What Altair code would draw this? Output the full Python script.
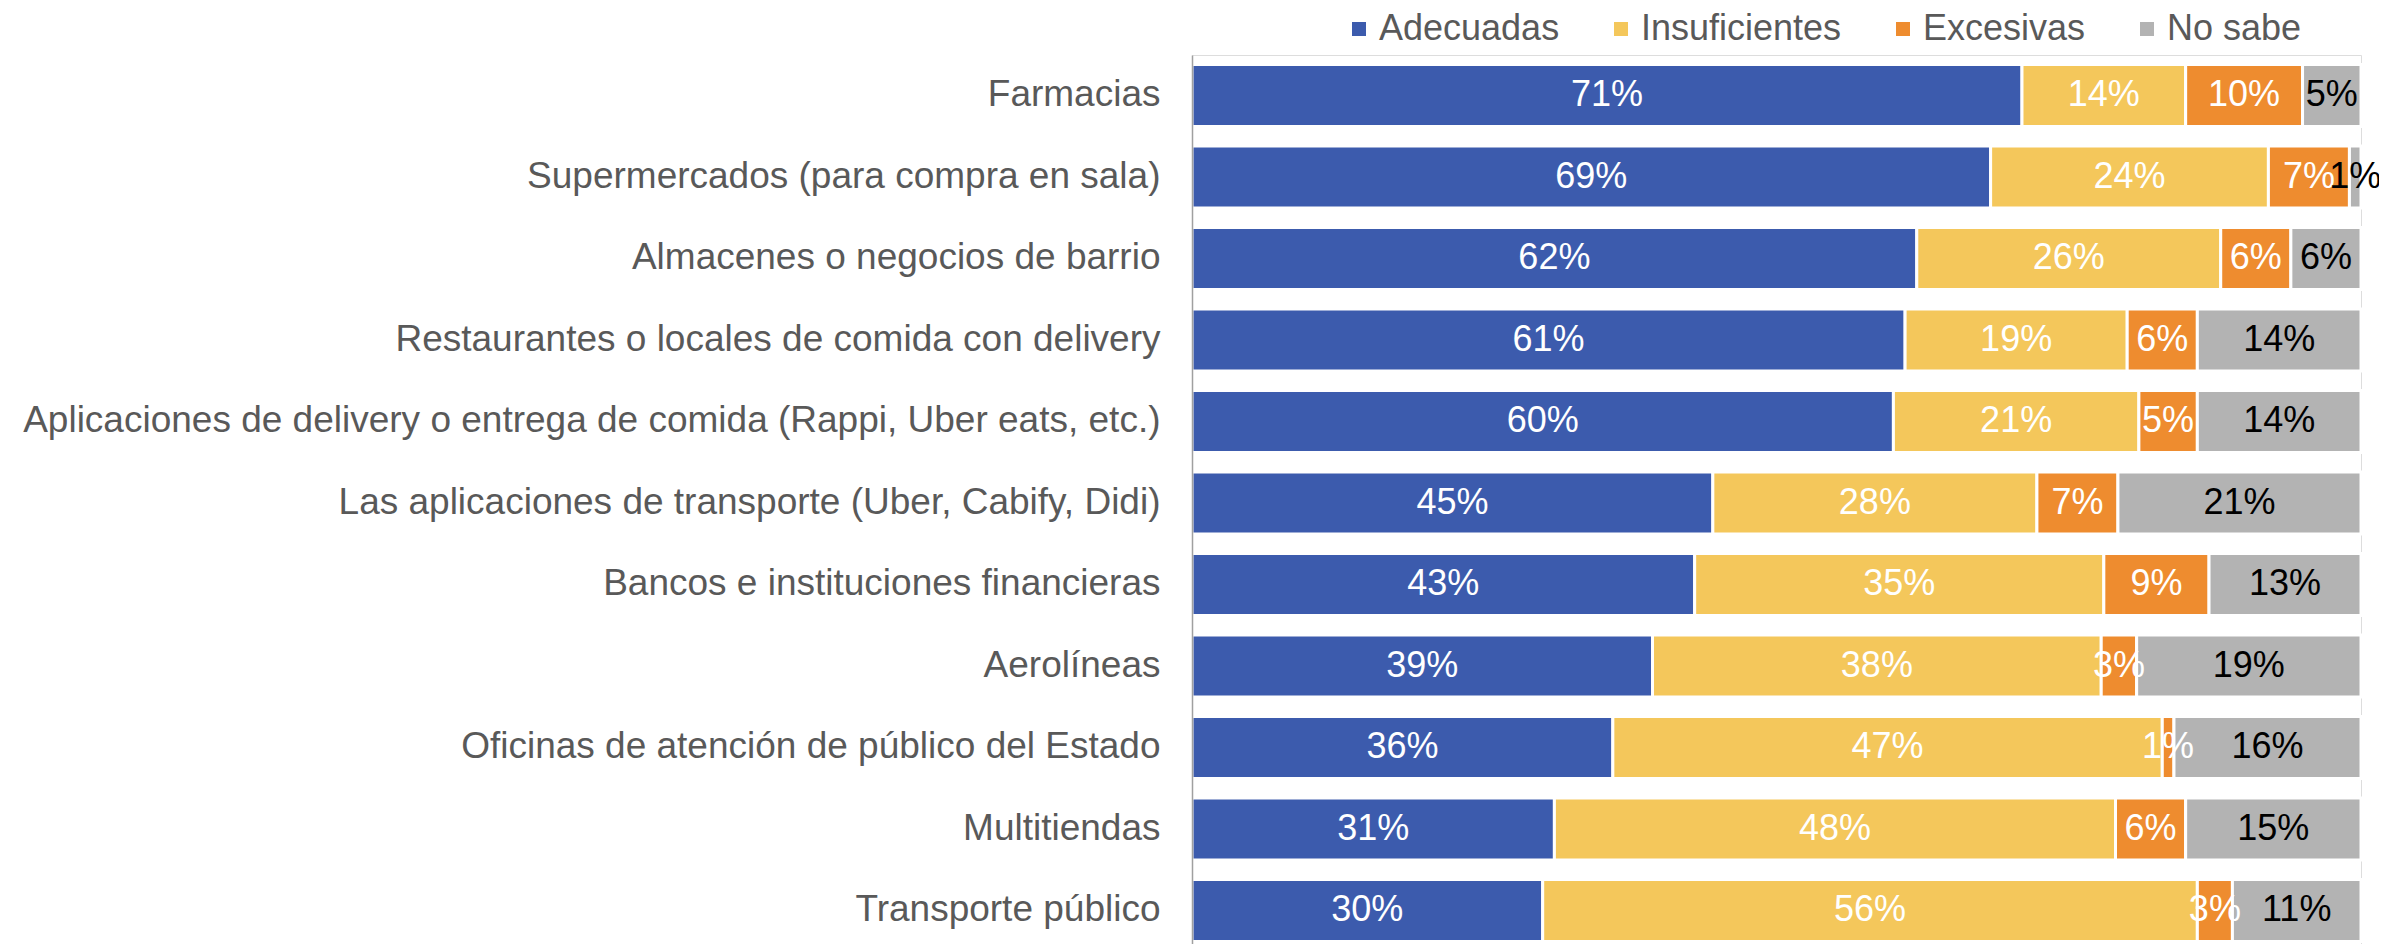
import altair as alt
import pandas as pd

categories = [
    "Farmacias",
    "Supermercados (para compra en sala)",
    "Almacenes o negocios de barrio",
    "Restaurantes o locales de comida con delivery",
    "Aplicaciones de delivery o entrega de comida (Rappi, Uber eats, etc.)",
    "Las aplicaciones de transporte (Uber, Cabify, Didi)",
    "Bancos e instituciones financieras",
    "Aerolíneas",
    "Oficinas de atención de público del Estado",
    "Multitiendas",
    "Transporte público",
]
series = ["Adecuadas", "Insuficientes", "Excesivas", "No sabe"]
adecuadas = [71, 69, 62, 61, 60, 45, 43, 39, 36, 31, 30]
insuficientes = [14, 24, 26, 19, 21, 28, 35, 38, 47, 48, 56]
excesivas = [10, 7, 6, 6, 5, 7, 9, 3, 1, 6, 3]
no_sabe = [5, 1, 6, 14, 14, 21, 13, 19, 16, 15, 11]
colors = ["#3C5BAD", "#F4C75B", "#EE8C2F", "#B3B3B3"]

FONT = "Liberation Sans"

rows = []
for j, (s, vals) in enumerate(zip(series, [adecuadas, insuficientes, excesivas, no_sabe])):
    for i, c in enumerate(categories):
        rows.append({"cat": c, "serie": s, "valor": vals[i], "orden": j})
df = pd.DataFrame(rows)

base = alt.Chart(df).transform_stack(
    stack="valor",
    as_=["x0", "x1"],
    groupby=["cat"],
    offset="normalize",
    sort=[alt.SortField("orden", order="ascending")],
).transform_calculate(
    xm="(datum.x0 + datum.x1) / 2",
    label="datum.valor + '%'",
)

y = alt.Y(
    "cat:N",
    sort=categories,
    title=None,
    scale=alt.Scale(paddingInner=0.239, paddingOuter=0.0736, align=0.79),
    axis=alt.Axis(
        labelFont=FONT,
        labelFontSize=37,
        labelColor="#595959",
        labelPadding=32,
        labelLimit=0,
        ticks=False,
        domainColor="#A0A0A0",
        domainWidth=1.5,
        zindex=1,
    ),
)

xscale = alt.Scale(domain=[0, 1], nice=False, zero=True)

bars = base.mark_bar(stroke="white", strokeWidth=3).encode(
    x=alt.X("x0:Q", scale=xscale, axis=None),
    x2="x1:Q",
    y=y,
    color=alt.Color(
        "serie:N",
        scale=alt.Scale(domain=series, range=colors),
        legend=alt.Legend(
            orient="none",
            legendX=149,
            legendY=-44,
            direction="horizontal",
            title=None,
            symbolType="square",
            symbolSize=196,
            symbolStrokeWidth=0,
            labelFont=FONT,
            labelFontSize=36,
            labelColor="#595959",
            labelLimit=0,
            labelOffset=2,
            columnPadding=43,
            padding=0,
        ),
    ),
    order=alt.Order("orden:Q"),
)

text = base.mark_text(font=FONT, fontSize=36, align="center", baseline="middle").encode(
    x=alt.X("xm:Q", scale=xscale, axis=None),
    y=y,
    text="label:N",
    color=alt.condition(alt.datum.serie == "No sabe", alt.value("black"), alt.value("white")),
)

chart = alt.layer(bars, text).properties(
    width=1169,
    height=889,
    autosize=alt.AutoSizeParams(type="none"),
    padding={"left": 1184, "top": 47, "right": 18, "bottom": 0},
).configure_view(stroke=None).configure(font=FONT)

chart.save("out.html", embed_options={"renderer": "svg", "actions": False})
